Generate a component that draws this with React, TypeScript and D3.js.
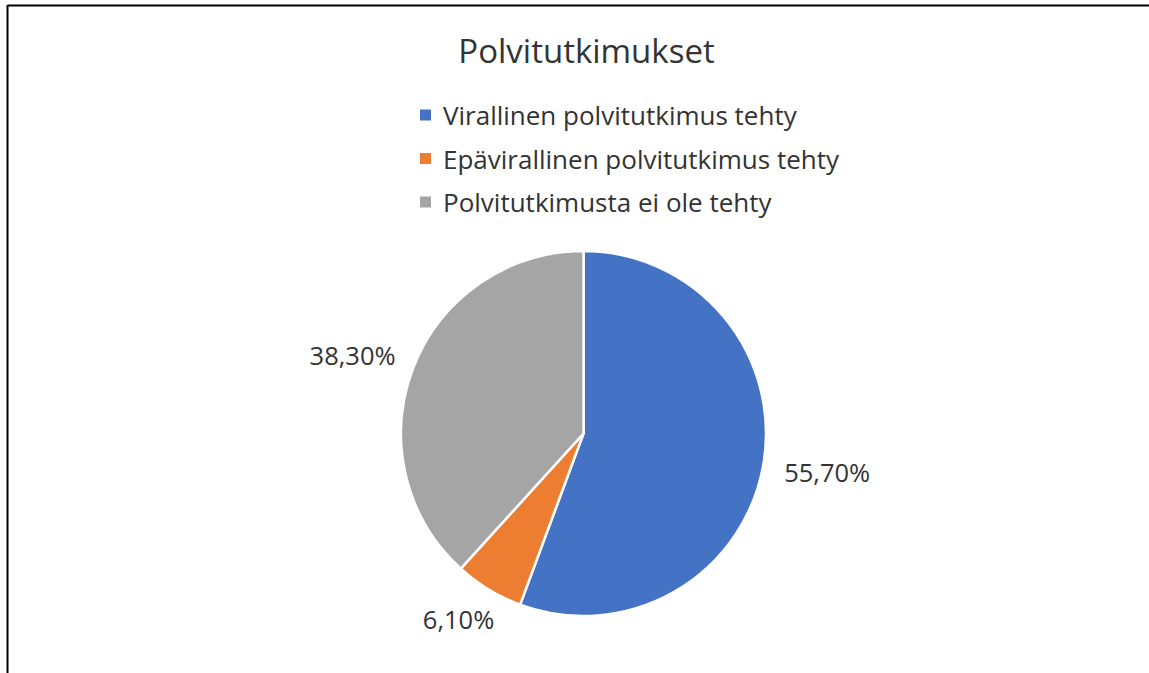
import React from "react";
import * as d3 from "d3";

const categories = [
  "Virallinen polvitutkimus tehty",
  "Epävirallinen polvitutkimus tehty",
  "Polvitutkimusta ei ole tehty",
];
const values = [55.7, 6.1, 38.3];
const labels = ["55,70%", "6,10%", "38,30%"];
const colors = ["#4472C4", "#ED7D31", "#A5A5A5"];
const title = "Polvitutkimukset";

const W = 1149;
const H = 673;
const FONT = "'Open Sans', 'Noto Sans', sans-serif";

export default function App() {
  const cx = 583.5;
  const cy = 433.5;
  const r = 182.5;
  const pie = d3.pie<number>().sort(null).value((d) => d)(values);
  const arc = d3.arc<d3.PieArcDatum<number>>().innerRadius(0).outerRadius(r);

  const legendY = d3.scalePoint<number>().domain([0, 1, 2]).range([115, 202]);
  const labelFont = 25.5;
  const labelW = (s: string) => s.length * labelFont * 0.55;
  const labelH = 22;
  const gap = 23;

  return (
    <svg
      width={W}
      height={H}
      style={{ position: "fixed", left: 0, top: 0, background: "#fff" }}
    >
      <rect x={0} y={0} width={W} height={H} fill="#fff" />
      <line x1={7.5} y1={5.5} x2={W} y2={5.5} stroke="#000" strokeWidth={2} />
      <line x1={7.5} y1={5} x2={7.5} y2={H} stroke="#000" strokeWidth={2} />
      <text
        x={586.5}
        y={50}
        textAnchor="middle"
        dominantBaseline="central"
        fontFamily={FONT}
        fontSize={33}
        fill="#333"
      >
        {title}
      </text>
      {categories.map((c, i) => (
        <g key={c}>
          <rect
            x={420}
            y={legendY(i)! - 5.5}
            width={11}
            height={11}
            fill={colors[i]}
          />
          <text
            x={443}
            y={legendY(i)!}
            dominantBaseline="central"
            fontFamily={FONT}
            fontSize={26}
            fill="#333"
          >
            {c}
          </text>
        </g>
      ))}
      <g transform={`translate(${cx},${cy})`}>
        {pie.map((p, i) => (
          <path
            key={i}
            d={arc(p)!}
            fill={colors[i]}
            stroke="#fff"
            strokeWidth={2.5}
          />
        ))}
        {pie.map((p, i) => {
          const a = (p.startAngle + p.endAngle) / 2;
          const s = Math.sin(a);
          const c = -Math.cos(a);
          const w = labelW(labels[i]);
          const x = (r + gap) * s + (w / 2) * s;
          const y = (r + gap) * c + (labelH / 2) * c;
          return (
            <text
              key={"l" + i}
              x={x}
              y={y}
              textAnchor="middle"
              dominantBaseline="central"
              fontFamily={FONT}
              fontSize={labelFont}
              fill="#333"
            >
              {labels[i]}
            </text>
          );
        })}
      </g>
    </svg>
  );
}
